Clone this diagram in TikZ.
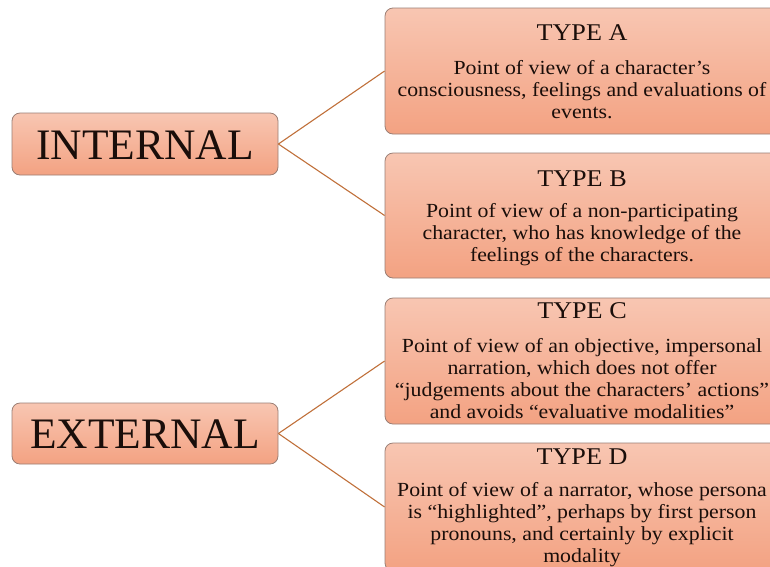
\documentclass[tikz,border=0pt]{standalone}
\usepackage{fontspec}
\setmainfont{Liberation Serif}
\newfontfamily\stretchserif[FakeStretch=1.09]{Liberation Serif}
\begin{document}
\begin{tikzpicture}[x=1pt,y=-1pt,
  box/.style={draw=boxborder, line width=0.8pt, rounded corners=8pt, top color=boxtop, bottom color=boxbot, inner sep=0pt},
  conn/.style={draw=connc, line width=1.1pt},
  title/.style={font=\stretchserif\fontsize{24}{26}\selectfont, text=textc, inner sep=0pt},
  body/.style={font=\stretchserif\fontsize{20}{22}\selectfont, text=textc, align=center, inner sep=0pt},
  big/.style={font=\fontsize{43.5}{46}\selectfont, text=textc, inner sep=0pt}]
\definecolor{boxtop}{HTML}{F8C6B2}
\definecolor{boxbot}{HTML}{F3A282}
\definecolor{boxborder}{HTML}{9A7E74}
\definecolor{connc}{HTML}{C0703A}
\definecolor{textc}{HTML}{1A0E0A}
\useasboundingbox (0,0) rectangle (770,566);
\begin{scope}
\clip (0,0) rectangle (770,566);
\node[box, minimum width=266pt, minimum height=62pt] (int) at (145,144) {};
\node[big] (intt) at (145,145) {INTERNAL};
\node[box, minimum width=266pt, minimum height=61pt] (ext) at (145,433.5) {};
\node[big] (extt) at (145,434) {EXTERNAL};

\node[box, minimum width=396pt, minimum height=126pt] (a) at (583,71) {};
\node[box, minimum width=396pt, minimum height=125pt] (b) at (583,215.5) {};
\node[box, minimum width=396pt, minimum height=126pt] (c) at (583,361) {};
\node[box, minimum width=396pt, minimum height=128pt] (d) at (583,507) {};

\node[title] (at) at (582,33) {TYPE A};
\node[body] (ab) at (582,90) {Point of view of a character’s\\consciousness, feelings and evaluations of\\events.};
\node[title] (bt) at (582,179) {TYPE B};
\node[body] (bb) at (582,235) {Point of view of a non-participating\\character, who has knowledge of the\\feelings of the characters.};
\node[title] (ct) at (582,311) {TYPE C};
\node[body] (cb) at (582,378.5) {Point of view of an objective, impersonal\\narration, which does not offer\\“judgements about the characters’ actions”\\and avoids “evaluative modalities”};
\node[title] (dt) at (582,457) {TYPE D};
\node[body] (db) at (582,525) {Point of view of a narrator, whose persona\\is “highlighted”, perhaps by first person\\pronouns, and certainly by explicit\\modality};

\draw[conn] (int.east) -- (a.west);
\draw[conn] (int.east) -- (b.west);
\draw[conn] (ext.east) -- (c.west);
\draw[conn] (ext.east) -- (d.west);
\end{scope}
\end{tikzpicture}
\end{document}
